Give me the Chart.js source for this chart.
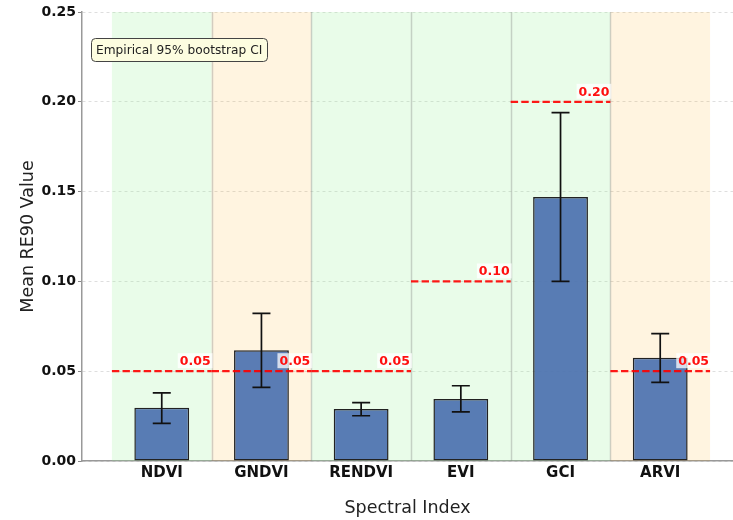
<!DOCTYPE html>
<html>
<head>
<meta charset="utf-8">
<script src="https://cdn.jsdelivr.net/npm/chart.js@4.4.0/dist/chart.umd.min.js"></script>
<style>
  html, body { margin: 0; padding: 0; background: #fff; overflow: hidden; }
</style>
</head>
<body>
<canvas id="chart" width="733" height="520"></canvas>
<script>
// --- data ---
const categories = ['NDVI', 'GNDVI', 'RENDVI', 'EVI', 'GCI', 'ARVI'];
const meanValues = [0.0297, 0.0616, 0.0290, 0.0345, 0.1470, 0.0575];
const ciLower    = [0.0210, 0.0410, 0.0252, 0.0274, 0.1000, 0.0438];
const ciUpper    = [0.0379, 0.0822, 0.0325, 0.0419, 0.1940, 0.0709];
const thresholds = [0.05, 0.05, 0.05, 0.10, 0.20, 0.05];
const bandKinds  = ['green', 'orange', 'green', 'green', 'green', 'orange'];
const yTicks     = [0.00, 0.05, 0.10, 0.15, 0.20, 0.25];

const FONT = "'DejaVu Sans', sans-serif";
const bandFill = { green: 'rgba(144,238,144,0.20)', orange: 'rgba(255,165,0,0.12)' };

// bands, separators, error bars, threshold labels, CI note
const decorations = {
  id: 'decorations',
  beforeDatasetsDraw(chart) {
    const { ctx, chartArea, scales: { x } } = chart;
    ctx.save();
    categories.forEach((c, i) => {
      const l = x.getPixelForValue(i - 0.5), r = x.getPixelForValue(i + 0.5);
      ctx.fillStyle = bandFill[bandKinds[i]];
      ctx.fillRect(l, chartArea.top, r - l, chartArea.bottom - chartArea.top);
    });
    ctx.strokeStyle = 'rgba(128,128,128,0.35)';
    ctx.lineWidth = 1.5;
    for (let i = 0; i < categories.length - 1; i++) {
      const px = Math.round(x.getPixelForValue(i + 0.5)) + 0.5;
      ctx.beginPath();
      ctx.moveTo(px, chartArea.top);
      ctx.lineTo(px, chartArea.bottom);
      ctx.stroke();
    }
    ctx.restore();
  },
  afterDatasetsDraw(chart) {
    const { ctx, chartArea, scales: { x, y } } = chart;
    ctx.save();
    // error bars
    ctx.strokeStyle = '#111';
    ctx.lineWidth = 1.7;
    categories.forEach((c, i) => {
      const px = x.getPixelForValue(i);
      const top = y.getPixelForValue(ciUpper[i]), bot = y.getPixelForValue(ciLower[i]);
      ctx.beginPath();
      ctx.moveTo(px, top); ctx.lineTo(px, bot);
      ctx.moveTo(px - 9, top); ctx.lineTo(px + 9, top);
      ctx.moveTo(px - 9, bot); ctx.lineTo(px + 9, bot);
      ctx.stroke();
    });
    // threshold labels
    ctx.font = 'bold 12.5px ' + FONT;
    ctx.textAlign = 'right';
    ctx.textBaseline = 'alphabetic';
    thresholds.forEach((t, i) => {
      const txt = t.toFixed(2);
      const rx = x.getPixelForValue(i + 0.5) - 1;
      const by = y.getPixelForValue(t) - 6;
      const w = ctx.measureText(txt).width;
      ctx.fillStyle = 'rgba(255,255,255,0.75)';
      ctx.fillRect(rx - w - 2, by - 12, w + 4, 15);
      ctx.fillStyle = '#ff1010';
      ctx.fillText(txt, rx, by);
    });
    // CI note box
    const bx = chartArea.left + 9, byy = chartArea.top + 26, bw = 176, bh = 23;
    ctx.beginPath();
    ctx.roundRect(bx + 0.5, byy + 0.5, bw, bh, 4);
    ctx.fillStyle = '#fdfde0';
    ctx.fill();
    ctx.strokeStyle = '#444';
    ctx.lineWidth = 1;
    ctx.stroke();
    ctx.font = '12.2px ' + FONT;
    ctx.fillStyle = '#222';
    ctx.textAlign = 'left';
    ctx.textBaseline = 'middle';
    ctx.fillText('Empirical 95% bootstrap CI', bx + 5, byy + bh / 2 + 1);
    ctx.restore();
  }
};

const thresholdSets = thresholds.map((t, i) => ({
  type: 'line',
  data: [{ x: i - 0.5, y: t }, { x: i + 0.5, y: t }],
  borderColor: 'rgba(255,0,0,0.9)',
  borderWidth: 2.2,
  borderDash: [7.4, 3.2],
  pointRadius: 0,
  order: 0
}));

new Chart(document.getElementById('chart'), {
  type: 'bar',
  data: {
    datasets: [{
      type: 'bar',
      data: categories.map((c, i) => ({ x: i, y: meanValues[i] })),
      backgroundColor: 'rgba(76,114,176,0.92)',
      borderColor: '#222',
      borderWidth: 1.5,
      borderSkipped: false,
      barPercentage: 0.55,
      categoryPercentage: 1,
      order: 1
    }, ...thresholdSets]
  },
  options: {
    responsive: false,
    animation: false,
    layout: { padding: { top: 12, right: 0, left: 0, bottom: 0 } },
    plugins: { legend: { display: false }, tooltip: { enabled: false } },
    scales: {
      x: {
        type: 'linear',
        offset: false,
        min: -0.8,
        max: 5.73,
        afterBuildTicks: scale => { scale.ticks = categories.map((c, i) => ({ value: i })); },
        afterFit: scale => { scale.height = 59; },
        grid: { display: false, drawTicks: false, offset: false },
        border: { color: '#999', width: 1.5 },
        ticks: {
          autoSkip: false, maxRotation: 0, padding: 3, color: '#111',
          font: { family: FONT, size: 15, weight: 'bold' },
          callback: v => categories[v]
        },
        title: {
          display: true, text: 'Spectral Index', color: '#222',
          font: { family: FONT, size: 17.5 }, padding: { top: 4, bottom: 1 }
        }
      },
      y: {
        min: 0,
        max: 0.25,
        afterBuildTicks: scale => { scale.ticks = yTicks.map(v => ({ value: v })); },
        afterFit: scale => { scale.width = 82; },
        grid: { color: 'rgba(0,0,0,0.13)', tickColor: '#888', tickLength: 4 },
        border: { color: '#999', width: 1.5, dash: [3, 3] },
        ticks: {
          padding: 2, color: '#111',
          font: { family: FONT, size: 14, weight: 'bold' },
          callback: v => v.toFixed(2)
        },
        title: {
          display: true, text: 'Mean RE90 Value', color: '#222',
          font: { family: FONT, size: 17.5 }, padding: { top: 18, bottom: 4 }
        }
      }
    }
  },
  plugins: [decorations]
});
</script>
</body>
</html>
